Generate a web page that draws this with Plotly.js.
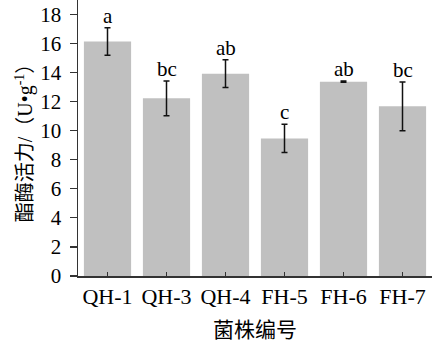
<!DOCTYPE html>
<html><head><meta charset="utf-8">
<script src="https://cdn.plot.ly/plotly-3.0.1.min.js"></script>
<style>html,body{margin:0;padding:0;background:#fff}#c{width:432px;height:343px}</style>
</head><body><div id="c"></div>
<script>
const strains = ["QH-1","QH-3","QH-4","FH-5","FH-6","FH-7"];
const activity = [16.14, 12.23, 13.93, 9.47, 13.38, 11.68];
const errors = [0.95, 1.2, 0.95, 0.97, 0.05, 1.68];
const letters = ["a","bc","ab","c","ab","bc"];
const yTicks = [0,2,4,6,8,10,12,14,16,18];

const font = "Liberation Serif, Times New Roman, Noto Sans CJK SC, serif";
const trace = {
  type: "bar", x: strains, y: activity, width: 0.8,
  marker: {color: "#c0c0c0"},
  error_y: {type: "data", array: errors, visible: true, color: "#111", thickness: 1.5, width: 3},
  hoverinfo: "none"
};
const ann = strains.map((s,i)=>({
  x: s, y: activity[i]+errors[i], text: letters[i], showarrow: false,
  yanchor: "bottom", yshift: -2, font: {family: font, size: 21, color: "#000"}
}));
const layout = {
  width: 432, height: 343,
  margin: {l: 78, r: 0, t: 0, b: 67},
  paper_bgcolor: "#fff", plot_bgcolor: "#fff",
  showlegend: false, bargap: 0.2,
  font: {family: font, size: 21, color: "#000"},
  xaxis: {
    type: "category", range: [-0.5, 5.5], showline: true, linecolor: "#333", linewidth: 1.5,
    ticks: "inside", ticklen: 4, tickcolor: "#333", tickwidth: 1.2,
    tickfont: {family: font, size: 22}, showgrid: false, zeroline: false,
    title: {text: "菌株编号", font: {family: font, size: 21}, standoff: 14}
  },
  yaxis: {
    range: [0, 19], tickvals: yTicks, showline: true, linecolor: "#333", linewidth: 1.5,
    ticks: "outside", ticklen: 7, tickcolor: "#333", tickwidth: 1.2,
    tickfont: {family: font, size: 21}, showgrid: false, zeroline: false, ticklabelstandoff: 4,
    title: {text: "酯酶活力/（U•g<sup>-1</sup>）", font: {family: font, size: 20}, standoff: 2}
  },
  annotations: ann
};
Plotly.newPlot("c", [trace], layout, {staticPlot: true});
</script></body></html>
